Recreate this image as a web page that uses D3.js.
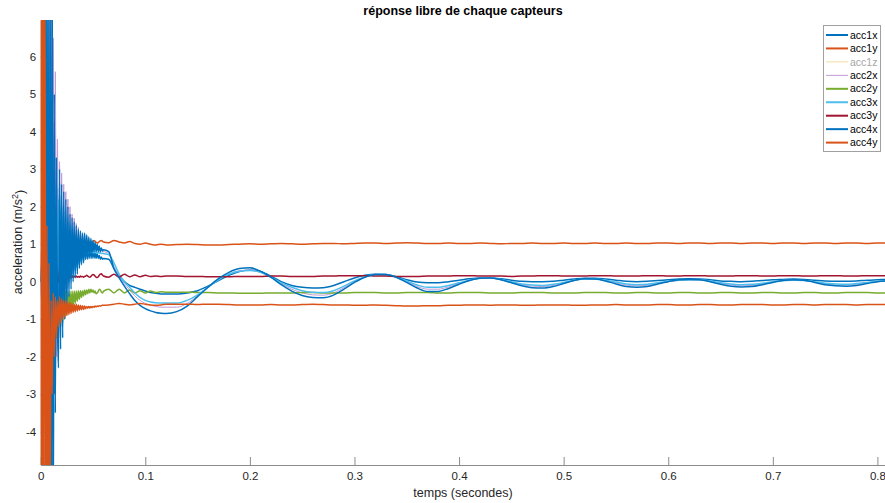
<!DOCTYPE html>
<html lang="fr">
<head>
<meta charset="UTF-8">
<title>réponse libre de chaque capteurs</title>
<script src="https://d3js.org/d3.v7.min.js"></script>
<style>
  body { margin: 0; background: #fff; }
  svg { display: block; font-family: "Liberation Sans", Arial, sans-serif; }
  .axis text { fill: #262626; font-size: 11.5px; font-family: "Liberation Sans", Arial, sans-serif; }
  .axis path, .axis line { stroke: #8c8c8c; }
</style>
</head>
<body>
<svg id="chart" width="885" height="503"></svg>
<script>
// temps d'echantillonnage (s)
const tBurst = [0, 0.001, 0.002, 0.003, 0.004, 0.005, 0.006, 0.007, 0.008, 0.009, 0.010, 0.011, 0.012, 0.013, 0.014, 0.015, 0.016];
const tDecay = [
  0.017, 0.018, 0.019, 0.020, 0.021, 0.022, 0.023, 0.024, 0.025, 0.026, 0.027,
  0.028, 0.029, 0.030, 0.031, 0.032, 0.033, 0.034, 0.035, 0.036, 0.037, 0.038,
  0.039, 0.040, 0.041, 0.042, 0.043, 0.044, 0.045, 0.046, 0.047, 0.048, 0.049,
  0.050, 0.051, 0.052, 0.053, 0.054, 0.055, 0.056, 0.057, 0.058, 0.059, 0.060
];
const tMid = [0.065, 0.070, 0.075, 0.080, 0.085, 0.090, 0.095, 0.100, 0.105, 0.110, 0.115, 0.120];
const tSlow = [
  0.13, 0.14, 0.15, 0.16, 0.17, 0.18, 0.19, 0.20,
  0.21, 0.22, 0.23, 0.24, 0.25, 0.26, 0.27, 0.28, 0.29, 0.30,
  0.31, 0.32, 0.33, 0.34, 0.35, 0.36, 0.37, 0.38, 0.39, 0.40,
  0.41, 0.42, 0.43, 0.44, 0.45, 0.46, 0.47, 0.48, 0.49, 0.50,
  0.51, 0.52, 0.53, 0.54, 0.55, 0.56, 0.57, 0.58, 0.59, 0.60,
  0.61, 0.62, 0.63, 0.64, 0.65, 0.66, 0.67, 0.68, 0.69, 0.70,
  0.71, 0.72, 0.73, 0.74, 0.75, 0.76, 0.77, 0.78, 0.79, 0.80, 0.81
];
const temps = tBurst.concat(tDecay, tMid, tSlow);

// accelerations (m/s^2)
const acc1x = [
  0, -0.5, 1, -2, 9, -7, 9, -7, 9, -7, 7, -5, 4, -3, 3, -1.8, 2.5,
  -1.5, 2.3, -1.0, 2.0, -0.6, 1.9, -0.4, 1.7, -0.2, 1.6, 0.0,
  1.5, 0.1, 1.4, 0.2, 1.3, 0.3, 1.25, 0.35, 1.2, 0.45, 1.15,
  0.5, 1.1, 0.55, 1.05, 0.6, 1.0, 0.6, 0.95, 0.62, 0.9, 0.62,
  0.85, 0.63, 0.8, 0.62, 0.75, 0.62, 0.7, 0.6, 0.66, 0.6, 0.62,
  0.6, 0.35, 0.15, 0.0, -0.1, -0.15, -0.2, -0.25, -0.29, -0.31, -0.33, -0.33,
  -0.33, -0.3, -0.24, -0.12, 0.03, 0.17, 0.27, 0.31,
  0.27, 0.15, 0.0, -0.1, -0.15, -0.17, -0.16, -0.1, 0.0, 0.1,
  0.17, 0.2, 0.19, 0.13, 0.05, -0.01, -0.03, -0.03, 0.0, 0.04,
  0.08, 0.1, 0.1, 0.08, 0.04, 0.01, 0.0, 0.0, 0.01, 0.04,
  0.07, 0.09, 0.09, 0.07, 0.04, 0.01, 0.0, 0.01, 0.03, 0.05,
  0.07, 0.08, 0.07, 0.05, 0.02, 0.01, 0.0, 0.01, 0.03, 0.05,
  0.06, 0.07, 0.06, 0.04, 0.02, 0.01, 0.01, 0.02, 0.04, 0.05, 0.06
];
const acc1y = [
  -7, 9, -7, 9, -5, 6, -3, 4, -1.5, 3, -0.5, 2.2, 0.2, 1.8, 0.5, 1.5, 0.8,
  0.7, 1.4, 0.85, 1.35, 0.9, 1.3, 0.95, 1.28, 0.98, 1.25, 1.0,
  1.22, 1.0, 1.2, 1.02, 1.18, 1.03, 1.15, 1.04, 1.14, 1.05, 1.12,
  1.05, 1.1, 1.06, 1.1, 1.05, 1.08, 1.04, 1.06, 1.03, 1.05, 1.05,
  1.08, 1.1, 1.08, 1.05, 1.03, 1.04, 1.07, 1.09, 1.1, 1.08, 1.06,
  1.04, 1.1, 1.06, 1.03, 1.07, 1.02, 1.0, 1.03, 1.0, 0.98, 1.0, 0.98,
  0.99, 1.0, 0.99, 0.98, 0.98, 0.99, 1.0, 1.01,
  1.0, 1.01, 1.02, 1.01, 1.0, 1.01, 1.02, 1.02, 1.01, 1.02,
  1.03, 1.03, 1.02, 1.03, 1.04, 1.03, 1.02, 1.02, 1.03, 1.02,
  1.02, 1.03, 1.02, 1.01, 1.02, 1.02, 1.03, 1.02, 1.02, 1.03,
  1.02, 1.02, 1.03, 1.02, 1.02, 1.03, 1.02, 1.02, 1.03, 1.03,
  1.02, 1.03, 1.03, 1.02, 1.03, 1.03, 1.02, 1.03, 1.03, 1.02,
  1.03, 1.03, 1.02, 1.03, 1.03, 1.02, 1.03, 1.03, 1.02, 1.03, 1.03
];
const acc2x = [
  0, -0.5, 1, -1.5, 3, -3, 5, -4, 7, -4, 7, -3, 6.5, -2, 5.6, -2.0, 3.8,
  -1.8, 3.2, -1.2, 2.9, -0.8, 2.6, -0.4, 2.4, -0.1, 2.2, 0.1,
  2.0, 0.3, 1.8, 0.4, 1.7, 0.5, 1.55, 0.6, 1.45, 0.65, 1.35,
  0.7, 1.3, 0.75, 1.25, 0.8, 1.2, 0.8, 1.1, 0.85, 1.05, 0.85,
  1.0, 0.85, 0.95, 0.85, 0.9, 0.85, 0.88, 0.83, 0.85, 0.8, 0.8,
  0.75, 0.4, 0.15, -0.05, -0.22, -0.38, -0.5, -0.58, -0.63, -0.66, -0.68, -0.68,
  -0.68, -0.58, -0.38, -0.15, 0.05, 0.2, 0.29, 0.31,
  0.25, 0.11, -0.05, -0.2, -0.3, -0.35, -0.36, -0.3, -0.16, 0.0,
  0.12, 0.19, 0.19, 0.12, 0.0, -0.13, -0.2, -0.2, -0.14, -0.05,
  0.03, 0.09, 0.1, 0.05, -0.02, -0.08, -0.12, -0.13, -0.1, -0.04,
  0.03, 0.07, 0.07, 0.03, -0.03, -0.09, -0.11, -0.1, -0.05, 0.0,
  0.04, 0.05, 0.05, 0.01, -0.05, -0.09, -0.11, -0.1, -0.06, -0.01,
  0.03, 0.04, 0.03, -0.01, -0.06, -0.09, -0.09, -0.07, -0.03, 0.0, 0.02
];
const acc2y = [
  0, 0.3, -0.5, 0.8, -1, 1.5, -1.5, 2, -1, 3, -0.5, 4, -1, -1.75, -0.3, -1.5, -0.3,
  -1.3, -0.2, -1.2, -0.25, -1.1, -0.25, -1.0, -0.25, -0.9, -0.25, -0.8,
  -0.25, -0.72, -0.25, -0.65, -0.25, -0.58, -0.25, -0.52, -0.24, -0.47, -0.24,
  -0.42, -0.24, -0.38, -0.22, -0.35, -0.22, -0.32, -0.2, -0.3, -0.2, -0.28,
  -0.22, -0.3, -0.25, -0.32, -0.3, -0.26, -0.2, -0.22, -0.28, -0.3, -0.26,
  -0.2, -0.3, -0.2, -0.3, -0.22, -0.3, -0.24, -0.3, -0.25, -0.29, -0.27, -0.28,
  -0.28, -0.28, -0.29, -0.29, -0.3, -0.3, -0.31, -0.31,
  -0.31, -0.3, -0.3, -0.3, -0.29, -0.29, -0.3, -0.3, -0.3, -0.29,
  -0.29, -0.29, -0.3, -0.3, -0.29, -0.29, -0.29, -0.3, -0.3, -0.29,
  -0.29, -0.29, -0.3, -0.3, -0.3, -0.29, -0.29, -0.29, -0.3, -0.3,
  -0.3, -0.29, -0.29, -0.29, -0.3, -0.3, -0.29, -0.29, -0.3, -0.3,
  -0.29, -0.29, -0.3, -0.3, -0.29, -0.29, -0.3, -0.3, -0.29, -0.29,
  -0.3, -0.3, -0.29, -0.29, -0.3, -0.3, -0.29, -0.29, -0.29, -0.3, -0.3
];
const acc3x = [
  0, 0.5, -1, 2, -3, 5, -5, 7, -4, 5, -3, 4, -2, 3, -1.2, 2.2, -0.5,
  2.2, -0.4, 1.9, -0.1, 1.7, 0.1, 1.5, 0.25, 1.35, 0.4, 1.25,
  0.5, 1.15, 0.55, 1.1, 0.6, 1.05, 0.65, 1.0, 0.68, 0.95, 0.7,
  0.92, 0.72, 0.9, 0.74, 0.88, 0.75, 0.86, 0.76, 0.84, 0.77, 0.82,
  0.77, 0.8, 0.77, 0.79, 0.76, 0.78, 0.76, 0.77, 0.75, 0.76, 0.75,
  0.72, 0.5, 0.2, 0.0, -0.15, -0.3, -0.42, -0.5, -0.54, -0.56, -0.57, -0.57,
  -0.57, -0.5, -0.35, -0.15, 0.05, 0.2, 0.28, 0.3,
  0.25, 0.12, -0.03, -0.15, -0.24, -0.28, -0.29, -0.24, -0.12, 0.02,
  0.13, 0.19, 0.19, 0.12, 0.02, -0.09, -0.15, -0.15, -0.1, -0.03,
  0.04, 0.09, 0.1, 0.06, 0.0, -0.06, -0.09, -0.1, -0.07, -0.02,
  0.04, 0.07, 0.07, 0.04, -0.01, -0.06, -0.08, -0.07, -0.03, 0.01,
  0.04, 0.05, 0.05, 0.02, -0.03, -0.06, -0.08, -0.07, -0.04, 0.0,
  0.03, 0.04, 0.03, 0.0, -0.04, -0.06, -0.07, -0.05, -0.02, 0.01, 0.02
];
const acc3y = [
  0, 1, -1, 2.5, -1.5, 2, -1, 1.5, -0.8, 1, -0.5, 0.7, -0.3, 0.5, -0.15, 0.4, 0.0,
  0.0, 0.3, -0.1, 0.25, 0.0, 0.22, 0.05, 0.2, 0.08, 0.18, 0.1,
  0.17, 0.1, 0.16, 0.11, 0.15, 0.12, 0.15, 0.12, 0.14, 0.12, 0.15,
  0.13, 0.14, 0.12, 0.14, 0.15, 0.17, 0.15, 0.13, 0.12, 0.14, 0.17,
  0.19, 0.18, 0.15, 0.12, 0.11, 0.13, 0.17, 0.2, 0.21, 0.18, 0.15,
  0.12, 0.2, 0.12, 0.2, 0.13, 0.18, 0.13, 0.17, 0.14, 0.15, 0.14, 0.15,
  0.15, 0.14, 0.14, 0.13, 0.13, 0.13, 0.14, 0.14,
  0.14, 0.15, 0.15, 0.14, 0.14, 0.14, 0.15, 0.15, 0.16, 0.16,
  0.16, 0.15, 0.15, 0.14, 0.14, 0.14, 0.15, 0.15, 0.15, 0.16,
  0.16, 0.15, 0.15, 0.15, 0.14, 0.15, 0.15, 0.16, 0.16, 0.15,
  0.15, 0.15, 0.16, 0.16, 0.15, 0.15, 0.15, 0.16, 0.16, 0.15,
  0.15, 0.16, 0.16, 0.15, 0.15, 0.15, 0.16, 0.16, 0.15, 0.15,
  0.16, 0.16, 0.15, 0.15, 0.16, 0.16, 0.15, 0.15, 0.16, 0.16, 0.16
];
const acc4x = [
  0, 0.5, -0.5, -2, 4, 9, -7, 9, -7, 9, -7, 9, -7, 5, -3.5, 3.3, -1.0,
  -2.3, 3.0, -1.8, 2.6, -1.5, 2.4, -1.0, 2.2, -0.7, 2.0, -0.4,
  1.8, -0.2, 1.7, 0.0, 1.6, 0.1, 1.5, 0.2, 1.4, 0.35, 1.35,
  0.45, 1.3, 0.5, 1.3, 0.6, 1.25, 0.65, 1.2, 0.7, 1.15, 0.75,
  1.1, 0.8, 1.05, 0.8, 1.0, 0.8, 0.95, 0.8, 0.9, 0.82, 0.85,
  0.8, 0.35, 0.1, -0.12, -0.32, -0.5, -0.63, -0.72, -0.78, -0.82, -0.84, -0.85,
  -0.8, -0.65, -0.4, -0.15, 0.08, 0.25, 0.35, 0.37,
  0.28, 0.12, -0.08, -0.25, -0.37, -0.42, -0.43, -0.36, -0.2, -0.02,
  0.12, 0.19, 0.19, 0.12, -0.02, -0.17, -0.26, -0.26, -0.18, -0.07,
  0.03, 0.09, 0.1, 0.05, -0.03, -0.11, -0.16, -0.17, -0.13, -0.05,
  0.03, 0.08, 0.07, 0.02, -0.06, -0.13, -0.15, -0.13, -0.06, 0.0,
  0.05, 0.06, 0.05, 0.0, -0.07, -0.12, -0.14, -0.13, -0.08, -0.02,
  0.03, 0.05, 0.04, -0.02, -0.08, -0.11, -0.12, -0.1, -0.05, 0.0, 0.02
];
const acc4y = [
  9, -7, 9, -7, 9, -7, 1.5, -7, 0.5, -6, -0.5, -3, -0.3, -2, -0.4, -1.5, -0.5,
  -1.2, -0.4, -1.1, -0.45, -1.0, -0.5, -0.95, -0.5, -0.9, -0.55, -0.88,
  -0.55, -0.85, -0.58, -0.82, -0.6, -0.8, -0.6, -0.78, -0.62, -0.76, -0.63,
  -0.75, -0.64, -0.74, -0.65, -0.72, -0.66, -0.71, -0.66, -0.7, -0.66, -0.69,
  -0.66, -0.68, -0.65, -0.67, -0.65, -0.66, -0.64, -0.65, -0.64, -0.63, -0.63,
  -0.62, -0.6, -0.58, -0.6, -0.62, -0.6, -0.58, -0.6, -0.62, -0.63, -0.62, -0.6,
  -0.6, -0.6, -0.61, -0.6, -0.6, -0.61, -0.62, -0.62,
  -0.62, -0.61, -0.62, -0.62, -0.61, -0.6, -0.61, -0.62, -0.62, -0.63,
  -0.63, -0.62, -0.63, -0.64, -0.65, -0.65, -0.64, -0.64, -0.63, -0.63,
  -0.62, -0.62, -0.63, -0.62, -0.62, -0.63, -0.63, -0.62, -0.62, -0.62,
  -0.63, -0.63, -0.62, -0.62, -0.61, -0.62, -0.62, -0.62, -0.61, -0.61,
  -0.62, -0.62, -0.61, -0.61, -0.62, -0.62, -0.61, -0.61, -0.61, -0.62,
  -0.62, -0.61, -0.61, -0.62, -0.61, -0.61, -0.61, -0.62, -0.61, -0.61, -0.61
];

const noms = ["acc1x", "acc1y", "acc1z", "acc2x", "acc2y", "acc3x", "acc3y", "acc4x", "acc4y"];
const valeurs = [acc1x, acc1y, null, acc2x, acc2y, acc3x, acc3y, acc4x, acc4y]; // acc1z masque
const couleurs = ["#0072BD", "#D95319", "#F2DFA0", "#C39AD6", "#77AC30", "#4DBEEE", "#A2142F", "#0072BD", "#D95319"];
const epaisseurs = [1.5, 1.5, 1, 1, 1.5, 1.5, 1.5, 1.5, 1.5];
const xTicks = [0, 0.1, 0.2, 0.3, 0.4, 0.5, 0.6, 0.7, 0.8];
const yTicks = [-4, -3, -2, -1, 0, 1, 2, 3, 4, 5, 6];

const mLeft = 40.7, mTop = 20, mBottom = 465, mRight = 885;
const x = d3.scaleLinear().domain([0, 0.81]).range([mLeft, mLeft + 0.81 * 1045.9]);
const y = d3.scaleLinear().domain([-4.89, 6.98]).range([mBottom, mTop]);

const svg = d3.select("#chart");

svg.append("clipPath").attr("id", "zone")
  .append("rect").attr("x", mLeft).attr("y", mTop)
  .attr("width", mRight - mLeft).attr("height", mBottom - mTop);

// axes
svg.append("g").attr("class", "axis")
  .attr("transform", `translate(0,${mBottom})`)
  .call(d3.axisBottom(x).tickValues(xTicks).tickFormat(d => String(d))
    .tickSizeInner(-8).tickSizeOuter(0).tickPadding(7));

svg.append("g").attr("class", "axis")
  .attr("transform", `translate(${mLeft},0)`)
  .call(d3.axisLeft(y).tickValues(yTicks).tickFormat(d => String(d))
    .tickSizeInner(-8).tickSizeOuter(0).tickPadding(4.5));

// courbes
const plot = svg.append("g").attr("clip-path", "url(#zone)");
valeurs.forEach((serie, k) => {
  if (!serie) return;
  const line = d3.line()
    .x((d, i) => x(temps[i]))
    .y(d => y(d))
    .curve(d3.curveMonotoneX);
  plot.append("path")
    .datum(serie)
    .attr("fill", "none")
    .attr("stroke", couleurs[k])
    .attr("stroke-width", epaisseurs[k])
    .attr("stroke-linejoin", "round")
    .attr("d", line);
});

// titre et labels
svg.append("text")
  .attr("x", 463).attr("y", 15)
  .attr("text-anchor", "middle")
  .style("font-size", "12.5px").style("font-weight", "bold").style("fill", "#000")
  .text("réponse libre de chaque capteurs");

svg.append("text")
  .attr("x", 463).attr("y", 497)
  .attr("text-anchor", "middle")
  .style("font-size", "12.5px").style("fill", "#262626")
  .text("temps (secondes)");

const ylab = svg.append("text")
  .attr("transform", "translate(22,242) rotate(-90)")
  .attr("text-anchor", "middle")
  .style("font-size", "12.5px").style("fill", "#262626");
ylab.append("tspan").text("acceleration (m/s");
ylab.append("tspan").attr("dy", "-0.45em").style("font-size", "9px").text("2");
ylab.append("tspan").attr("dy", "0.45em").text(")");

// legende
const leg = svg.append("g");
leg.append("rect")
  .attr("x", 823.5).attr("y", 25.5).attr("width", 57).attr("height", 126)
  .attr("fill", "#fff").attr("stroke", "#a0a0a0").attr("stroke-width", 1);
noms.forEach((nom, k) => {
  const yy = 35 + k * 13.45;
  leg.append("line")
    .attr("x1", 826).attr("x2", 848).attr("y1", yy).attr("y2", yy)
    .attr("stroke", couleurs[k]).attr("stroke-width", epaisseurs[k] === 1 ? 1 : 2);
  leg.append("text")
    .attr("x", 850).attr("y", yy).attr("dy", "0.35em")
    .style("font-size", "10.5px")
    .style("fill", valeurs[k] ? "#000" : "#a6a6a6")
    .text(nom);
});
</script>
</body>
</html>
